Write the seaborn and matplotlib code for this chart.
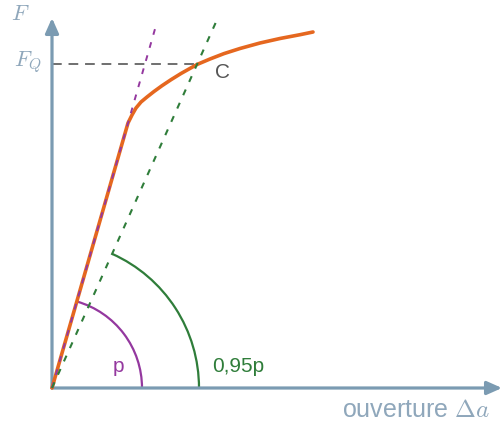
import numpy as np
import pandas as pd
import matplotlib
matplotlib.use("Agg")
import matplotlib.pyplot as plt
from matplotlib.patches import Arc
import seaborn as sns

# Load / opening curve (opening on x, force on y), arbitrary units
opening = [0, 76, 80, 84, 89, 95, 102, 110, 119, 129, 140, 145, 158, 172,
           188, 208, 228, 248, 261]
force = [0, 265, 273, 280, 286, 291, 296.5, 302.3, 308.3, 314.5, 320.7,
         323.5, 329, 334.4, 339.5, 345, 349.5, 353.3, 356]

# Initial tangent (slope p) and secant (slope 0.95p)
tangent_x = [0, 105]
tangent_y = [0, 366]
secant_x = [0, 164]
secant_y = [0, 366]

# Intersection point C giving F_Q
C_x, C_y = 145, 324

axis_col = "#7b9bb2"
label_col = "#8fa7bb"
orange = "#e5671f"
purple = "#94389f"
green = "#2f7d3a"

sns.set_style("white")
plt.rcParams["mathtext.fontset"] = "cm"
sans = "Liberation Sans"

fig = plt.figure(figsize=(5.04, 4.29), dpi=100)
ax = fig.add_axes([0, 0, 1, 1])
ax.set_xlim(-52, 452)
ax.set_ylim(-41, 388)
ax.axis("off")

# axes arrows
arrow = dict(arrowstyle="-|>,head_length=0.9,head_width=0.4",
             color=axis_col, lw=2.3, shrinkA=0, shrinkB=0)
ax.annotate("", xy=(450, 0), xytext=(0, 0), arrowprops=arrow)
ax.annotate("", xy=(0, 370), xytext=(0, 0), arrowprops=arrow)

# curve
df = pd.DataFrame({"ouverture": opening, "F": force})
sns.lineplot(data=df, x="ouverture", y="F", sort=False, color=orange,
             lw=2.6, ax=ax, zorder=3, solid_joinstyle="round")

# dashed construction lines
ax.plot([0, C_x], [C_y, C_y], ls=(0, (5, 3.5)), color="#6f6f6f", lw=1.4, zorder=2)
ax.plot(tangent_x, tangent_y, ls=(0, (3, 4)), color=purple, lw=1.4, zorder=4)
ax.plot(secant_x, secant_y, ls=(0, (3, 4)), color=green, lw=1.5, zorder=4)

# angle arcs
ang_p = np.degrees(np.arctan2(tangent_y[1], tangent_x[1]))
ang_s = np.degrees(np.arctan2(secant_y[1], secant_x[1]))
ax.add_patch(Arc((0, 0), 180, 180, theta1=0, theta2=ang_p, color=purple, lw=1.6))
ax.add_patch(Arc((0, 0), 294, 294, theta1=0, theta2=ang_s, color=green, lw=1.6))

# texts
ax.text(-32, 374, "$F$", fontsize=16, color=label_col, ha="center", va="center")
ax.text(-24, 326, "$F_Q$", fontsize=16, color=label_col, ha="center", va="center")
ax.text(170, 315, "C", fontsize=15, color="#555555", ha="center", va="center",
        family=sans)
ax.text(66, 22, "p", fontsize=15, color=purple, ha="center", va="center",
        family=sans)
ax.text(186, 22, "0,95p", fontsize=15, color=green, ha="center", va="center",
        family=sans)
ax.text(364, -22, r"ouverture $\Delta a$", fontsize=18, color=label_col,
        ha="center", va="center", family=sans)

fig.savefig("out.png", dpi=100)
